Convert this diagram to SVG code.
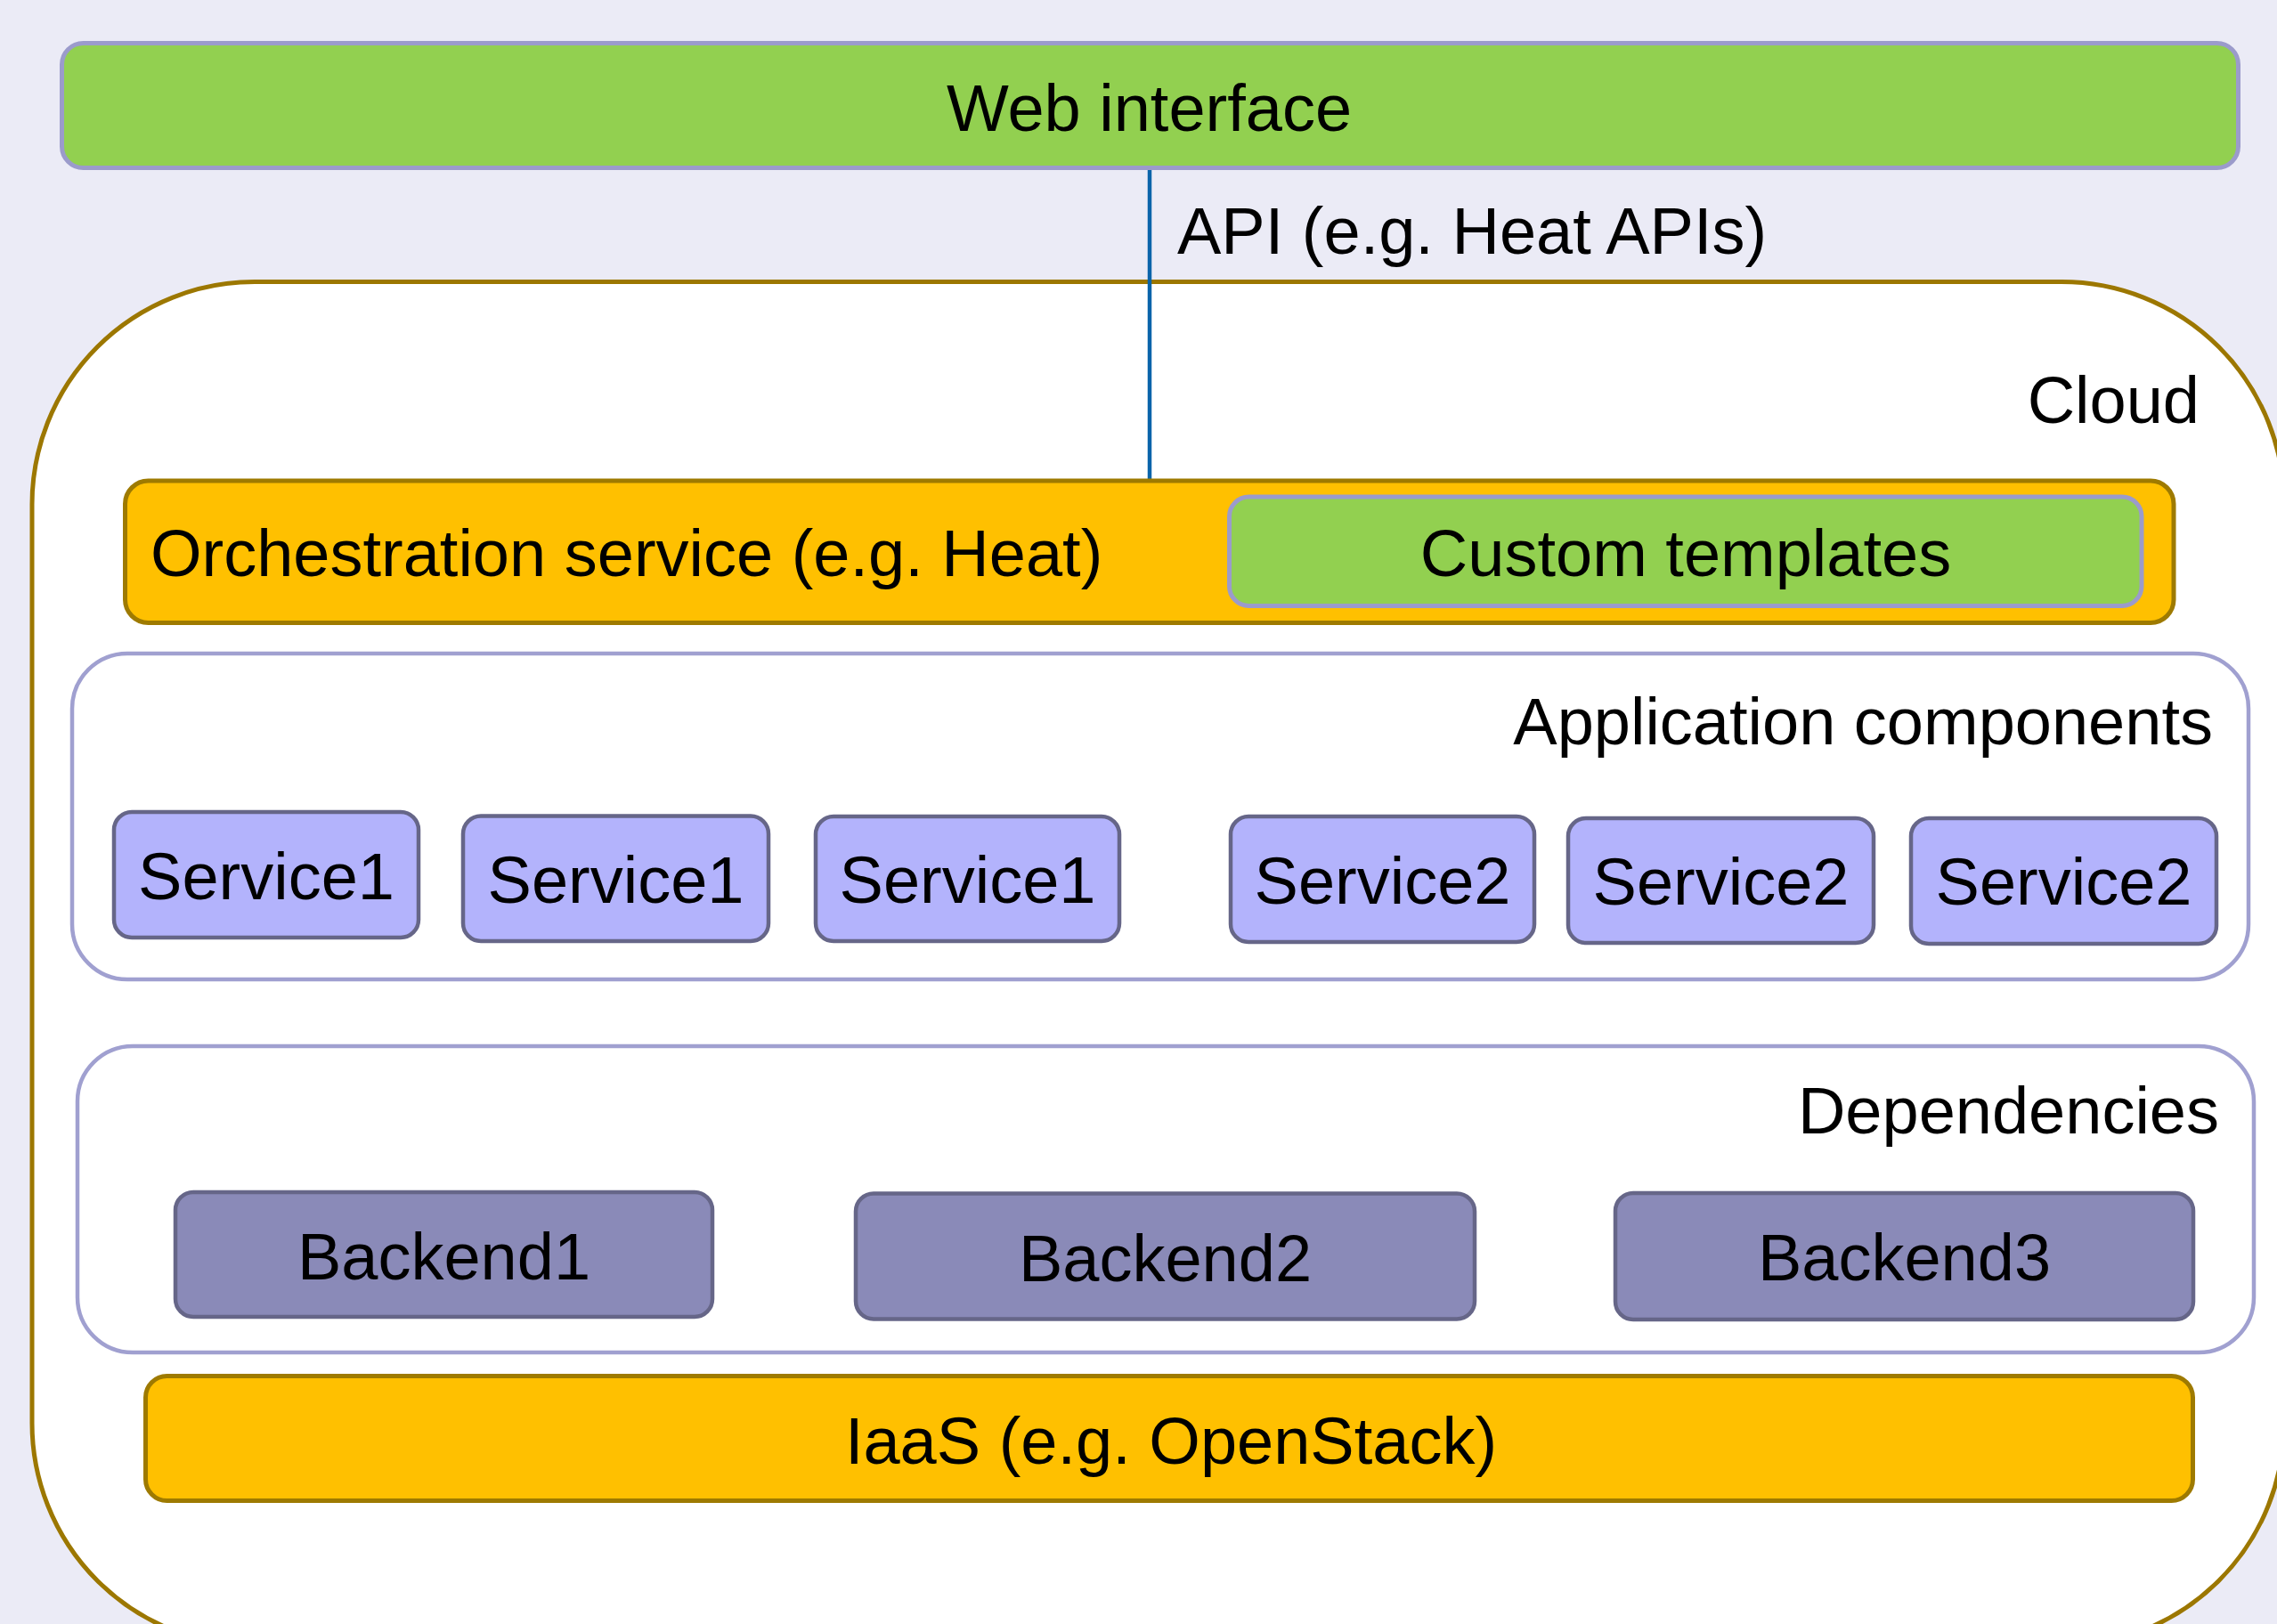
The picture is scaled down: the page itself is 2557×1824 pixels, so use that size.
<svg xmlns="http://www.w3.org/2000/svg" width="2557" height="1824" viewBox="0 0 2557 1824">
<style>
text{font-family:"Liberation Sans",Arial,sans-serif;font-size:74px;fill:#000}
.green{fill:#92D050;stroke:#9B9BCB;stroke-width:5}
.orange{fill:#FFC000;stroke:#9E7A00;stroke-width:5}
.svc{fill:#B3B3FC;stroke:#666688;stroke-width:4.5}
.be{fill:#8A8AB8;stroke:#666688;stroke-width:4.5}
.grp{fill:#FFFFFF;stroke:#A0A0D0;stroke-width:4.5}
.mid{text-anchor:middle}
.end{text-anchor:end}
</style>
<rect x="0" y="0" width="2557" height="1824" fill="#EBEBF6"/>
<g id="web">
<rect class="green" x="69.5" y="48.5" width="2444" height="140" rx="24"/>
<text class="mid" x="1290.5" y="147">Web interface</text>
</g>
<g id="cloud">
<rect x="36" y="316.5" width="2529" height="1532" rx="250" fill="#FFFFFF" stroke="#9C7700" stroke-width="5"/>
<text class="end" x="2470" y="475">Cloud</text>
</g>
<g id="connectors">
<line x1="1291" y1="191" x2="1291" y2="539" stroke="#0A64AA" stroke-width="4.5"/>
<text x="1322" y="285">API (e.g. Heat APIs)</text>
</g>
<g id="orchestration">
<rect class="orange" x="140.5" y="540" width="2300.5" height="159.5" rx="26"/>
<text x="169" y="647">Orchestration service (e.g. Heat)</text>
</g>
<g id="custom-templates">
<rect class="green" x="1380.5" y="558" width="1024.5" height="122.5" rx="22"/>
<text class="mid" x="1893" y="647">Custom templates</text>
</g>
<g id="application-components">
<rect class="grp" x="81" y="734" width="2444" height="366" rx="62"/>
<text class="end" x="2485" y="836">Application components</text>
</g>
<g id="service1-a">
<rect class="svc" x="128" y="912" width="342" height="141" rx="20"/>
<text class="mid" x="299" y="1010">Service1</text>
</g>
<g id="service1-b">
<rect class="svc" x="520" y="916.5" width="343" height="140.5" rx="20"/>
<text class="mid" x="691.5" y="1014">Service1</text>
</g>
<g id="service1-c">
<rect class="svc" x="916" y="917" width="341" height="140" rx="20"/>
<text class="mid" x="1086.5" y="1014">Service1</text>
</g>
<g id="service2-a">
<rect class="svc" x="1382" y="917" width="341" height="141" rx="20"/>
<text class="mid" x="1552.5" y="1015">Service2</text>
</g>
<g id="service2-b">
<rect class="svc" x="1761" y="919" width="343" height="140" rx="20"/>
<text class="mid" x="1932.5" y="1016">Service2</text>
</g>
<g id="service2-c">
<rect class="svc" x="2146" y="919" width="343" height="141" rx="20"/>
<text class="mid" x="2317.5" y="1016">Service2</text>
</g>
<g id="dependencies">
<rect class="grp" x="87" y="1175" width="2444" height="344" rx="62"/>
<text class="end" x="2492" y="1273">Dependencies</text>
</g>
<g id="backend1">
<rect class="be" x="197" y="1339" width="603" height="140" rx="20"/>
<text class="mid" x="498.5" y="1437">Backend1</text>
</g>
<g id="backend2">
<rect class="be" x="961" y="1340.5" width="695" height="141" rx="20"/>
<text class="mid" x="1308.5" y="1439">Backend2</text>
</g>
<g id="backend3">
<rect class="be" x="1814" y="1340" width="649" height="142" rx="20"/>
<text class="mid" x="2138.5" y="1438">Backend3</text>
</g>
<g id="iaas">
<rect class="orange" x="163.5" y="1545.5" width="2299" height="140" rx="24"/>
<text class="mid" x="1315" y="1644">IaaS (e.g. OpenStack)</text>
</g>
</svg>
